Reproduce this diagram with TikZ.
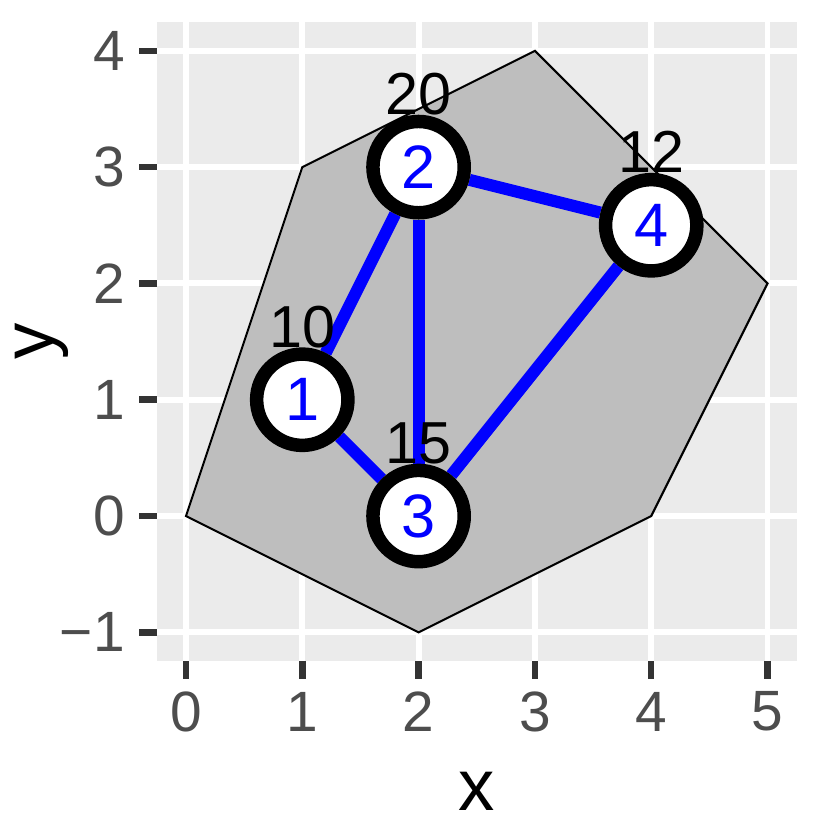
\documentclass[tikz,border=0pt]{standalone}
\usepackage{fontspec}
\setmainfont{Liberation Sans}
\usetikzlibrary{positioning}
\definecolor{panelgray}{HTML}{EBEBEB}
\definecolor{hullgray}{HTML}{BEBEBE}
\definecolor{ticktext}{HTML}{4D4D4D}
\definecolor{tickline}{HTML}{333333}
\pgfdeclarelayer{back}
\pgfdeclarelayer{mid}
\pgfsetlayers{back,mid,main}

\begin{document}
\begin{tikzpicture}[x=2cm, y=2cm, on grid,
    vertex/.style={circle, draw=black, line width=6.6pt, fill=white, minimum size=1.57cm,
      inner sep=0pt, text=blue, font=\fontsize{30}{32}\selectfont},
    weight/.style={inner sep=0pt, text=black, font=\fontsize{29}{31}\selectfont},
    link/.style={blue, line width=5.9pt},
    gridline/.style={white, line width=2.9pt},
    tickmark/.style={tickline, line width=3.2pt},
    ticklabel/.style={inner sep=0pt, text=ticktext, font=\fontsize{27.8}{29}\selectfont},
    axistitle/.style={inner sep=0pt, text=black, font=\fontsize{35.5}{37}\selectfont}]
\useasboundingbox (-1.599,-2.683) rectangle (5.606,4.437);

\node[vertex] (v1) at (1,1) {1};
\node[vertex] (v2) at (2,3) {2};
\node[vertex] (v3) at (2,0) {3};
\node[vertex] (v4) at (4,2.5) {4};
\node[weight, above=1.256cm of v1] (w1) {10};
\node[weight, above=1.256cm of v2] (w2) {20};
\node[weight, above=1.256cm of v3] (w3) {15};
\node[weight, above=1.256cm of v4] (w4) {12};

\begin{pgfonlayer}{back}
\fill[panelgray] (-0.25,-1.25) rectangle (5.25,4.25);
\foreach \gx in {0,...,5} \draw[gridline] (\gx,-1.25) -- (\gx,4.25);
\foreach \gy in {-1,...,4} \draw[gridline] (-0.25,\gy) -- (5.25,\gy);
\filldraw[fill=hullgray, draw=black, line width=1pt]
  (0,0) -- (1,3) -- (3,4) -- (5,2) -- (4,0) -- (2,-1) -- cycle;
\end{pgfonlayer}

\begin{pgfonlayer}{mid}
\draw[link] (v1) -- (v2);
\draw[link] (v1) -- (v3);
\draw[link] (v2) -- (v3);
\draw[link] (v2) -- (v4);
\draw[link] (v3) -- (v4);
\end{pgfonlayer}

\foreach \gx in {0,...,5} {
  \draw[tickmark] (\gx,-1.25) -- (\gx,-1.40);
  \node[ticklabel] (xt\gx) at (\gx,-1.681) {\gx};
}
\foreach \gy/\glab in {-1/−1,0/0,1/1,2/2,3/3,4/4} {
  \draw[tickmark] (-0.25,\gy) -- (-0.40,\gy);
  \node[ticklabel, anchor=east] (yt\gy) at (-0.524,\gy) {\glab};
}
\node[axistitle] (xtitle) at (2.5,-2.365) {x};
\node[axistitle, rotate=90] (ytitle) at (-1.24,1.5) {y};
\end{tikzpicture}
\end{document}
